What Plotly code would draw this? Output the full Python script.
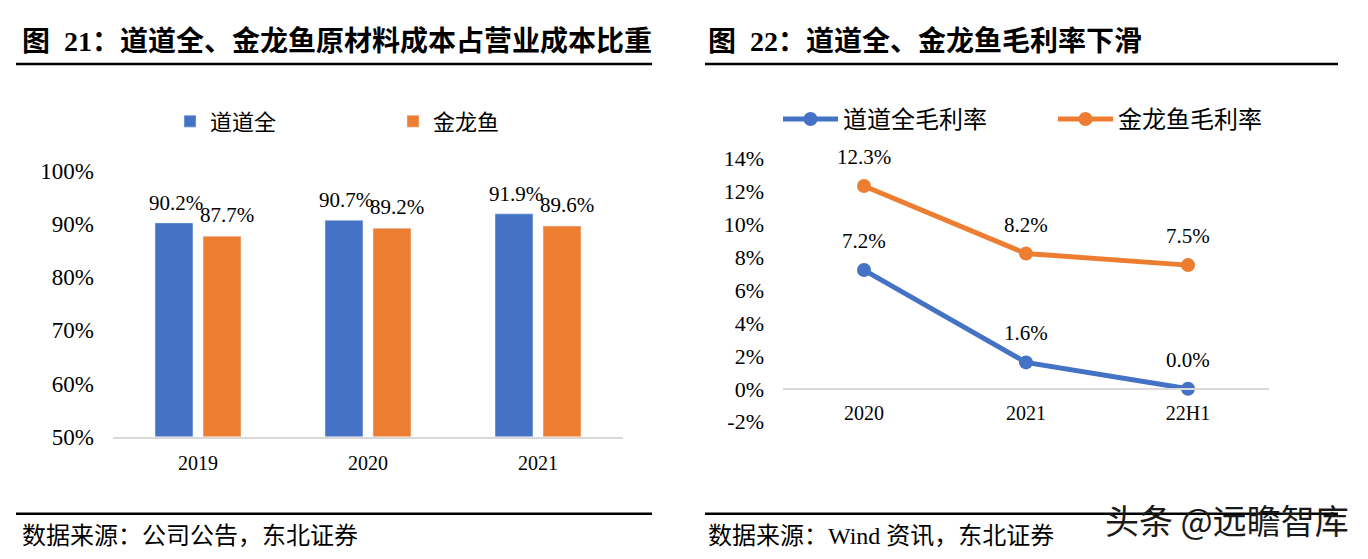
import plotly.graph_objects as go

PAGE_W, PAGE_H = 1368, 559
OX, OY = 8, 8                      # body margin of the html page
W, H = PAGE_W - 2 * OX, PAGE_H - OY

# ---- data ----
bar_years = ["2019", "2020", "2021"]
ddq_cost = [90.2, 90.7, 91.9]
jly_cost = [87.7, 89.2, 89.6]

gm_periods = ["2020", "2021", "22H1"]
ddq_gm = [7.2, 1.6, 0.0]
jly_gm = [12.3, 8.2, 7.5]

left_yticks = [50, 60, 70, 80, 90, 100]
right_yticks = [-2, 0, 2, 4, 6, 8, 10, 12, 14]

BLUE = "#4472C4"
ORANGE = "#ED7D31"
SERIF = "Liberation Serif, Times New Roman, Noto Sans CJK SC"


def px_x(x):
    return (x - OX) / W


def px_y(y):
    actual = (y - 8.7) / 0.966      # vertical calibration of reference coordinates
    return 1 - (actual - OY) / H


fig = go.Figure()

fig.add_trace(go.Bar(x=bar_years, y=ddq_cost, name="道道全", marker_color=BLUE,
                     xaxis="x", yaxis="y", legend="legend"))
fig.add_trace(go.Bar(x=bar_years, y=jly_cost, name="金龙鱼", marker_color=ORANGE,
                     xaxis="x", yaxis="y", legend="legend"))

fig.add_trace(go.Scatter(x=gm_periods, y=ddq_gm, name="道道全毛利率", mode="lines+markers",
                         line=dict(color=BLUE, width=5), marker=dict(size=14, color=BLUE),
                         xaxis="x2", yaxis="y2", legend="legend2"))
fig.add_trace(go.Scatter(x=gm_periods, y=jly_gm, name="金龙鱼毛利率", mode="lines+markers",
                         line=dict(color=ORANGE, width=5), marker=dict(size=14, color=ORANGE),
                         xaxis="x2", yaxis="y2", legend="legend2"))

annotations = []
for i, yr in enumerate(bar_years):
    annotations.append(dict(x=i, y=ddq_cost[i], xref="x", yref="y", text=f"{ddq_cost[i]:.1f}%",
                            showarrow=False, xshift=-22, yshift=20,
                            font=dict(family=SERIF, size=21, color="#000")))
    annotations.append(dict(x=i, y=jly_cost[i], xref="x", yref="y", text=f"{jly_cost[i]:.1f}%",
                            showarrow=False, xshift=29, yshift=21,
                            font=dict(family=SERIF, size=21, color="#000")))
for i, p in enumerate(gm_periods):
    annotations.append(dict(x=i, y=ddq_gm[i], xref="x2", yref="y2", text=f"{ddq_gm[i]:.1f}%",
                            showarrow=False, yshift=29,
                            font=dict(family=SERIF, size=21, color="#000")))
    annotations.append(dict(x=i, y=jly_gm[i], xref="x2", yref="y2", text=f"{jly_gm[i]:.1f}%",
                            showarrow=False, yshift=29,
                            font=dict(family=SERIF, size=21, color="#000")))

annotations.append(dict(x=px_x(20), y=px_y(38), xref="paper", yref="paper", xanchor="left",
                        yanchor="middle", showarrow=False,
                        text="<b>图  21：道道全、金龙鱼原材料成本占营业成本比重</b>",
                        font=dict(family=SERIF, size=28, color="#000")))
annotations.append(dict(x=px_x(706), y=px_y(38), xref="paper", yref="paper", xanchor="left",
                        yanchor="middle", showarrow=False,
                        text="<b>图  22：道道全、金龙鱼毛利率下滑</b>",
                        font=dict(family=SERIF, size=28, color="#000")))
annotations.append(dict(x=px_x(20), y=px_y(539), xref="paper", yref="paper", xanchor="left",
                        yanchor="middle", showarrow=False,
                        text="数据来源：公司公告，东北证券",
                        font=dict(family=SERIF, size=24, color="#000")))
annotations.append(dict(x=px_x(706), y=px_y(539), xref="paper", yref="paper", xanchor="left",
                        yanchor="middle", showarrow=False,
                        text="数据来源：Wind 资讯，东北证券",
                        font=dict(family=SERIF, size=24, color="#000")))
annotations.append(dict(x=px_x(1351), y=px_y(522), xref="paper", yref="paper", xanchor="right",
                        yanchor="middle", showarrow=False,
                        text="头条 @远瞻智库",
                        font=dict(family="Noto Sans CJK SC", size=34, color="#1a1a1a")))

shapes = []
for x0, x1 in [(16, 652), (705, 1338)]:
    for yy in (61, 516):
        shapes.append(dict(type="line", xref="paper", yref="paper", x0=px_x(x0), x1=px_x(x1),
                           y0=px_y(yy), y1=px_y(yy), line=dict(color="#000", width=2.5)))

y2_domain = [px_y(423), px_y(156)]
y2_range = [-2, 14]
zero_pos = y2_domain[0] + (0 - y2_range[0]) / (y2_range[1] - y2_range[0]) * (y2_domain[1] - y2_domain[0])

fig.update_layout(
    width=W, height=H,
    margin=dict(l=0, r=0, t=0, b=0),
    paper_bgcolor="white", plot_bgcolor="white",
    barmode="group", bargap=0.435, bargroupgap=0.21,
    font=dict(family=SERIF, color="#000"),
    xaxis=dict(type="category", range=[-0.5, 2.5], domain=[px_x(113), px_x(623)], anchor="y",
               showline=True, linecolor="#d9d9d9", linewidth=1.5, showgrid=False, ticks="",
               ticklabelstandoff=8, tickfont=dict(family=SERIF, size=20)),
    yaxis=dict(domain=[px_y(438), px_y(169)], anchor="x", range=[50, 100],
               tickvals=left_yticks, ticktext=[f"{v}%" for v in left_yticks],
               showgrid=False, zeroline=False, showline=False, ticks="",
               ticklabelstandoff=18, tickfont=dict(family=SERIF, size=23)),
    xaxis2=dict(type="category", range=[-0.5, 2.5], domain=[px_x(783), px_x(1269)],
                anchor="free", position=zero_pos,
                showline=True, linecolor="#d9d9d9", linewidth=1.5, showgrid=False, ticks="",
                ticklabelstandoff=6, tickfont=dict(family=SERIF, size=20)),
    yaxis2=dict(domain=y2_domain, anchor="x2", range=y2_range,
                tickvals=right_yticks, ticktext=[f"{v}%" for v in right_yticks],
                showgrid=False, zeroline=False, showline=False, ticks="",
                ticklabelstandoff=18, tickfont=dict(family=SERIF, size=22)),
    legend=dict(orientation="h", x=px_x(170), xanchor="left", y=px_y(119), yanchor="middle",
                font=dict(family=SERIF, size=22), entrywidth=178, bgcolor="rgba(0,0,0,0)"),
    legend2=dict(orientation="h", x=px_x(778), xanchor="left", y=px_y(117), yanchor="middle",
                 font=dict(family=SERIF, size=24), entrywidth=205, itemwidth=55,
                 bgcolor="rgba(0,0,0,0)"),
    annotations=annotations,
    shapes=shapes,
    showlegend=True,
)

fig.write_html("out.html")
